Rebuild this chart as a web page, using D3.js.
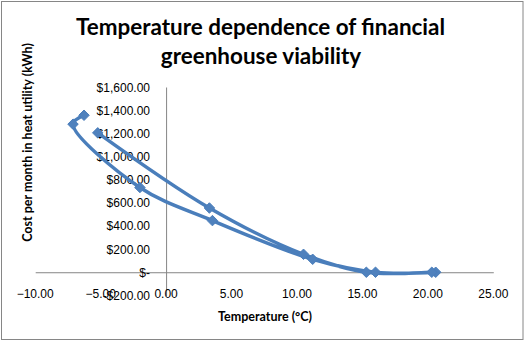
<!DOCTYPE html>
<html>
<head>
<meta charset="utf-8">
<script src="https://cdn.jsdelivr.net/npm/d3@7"></script>
<style>
  html, body { margin: 0; padding: 0; background: #fff; }
  svg { display: block; }
</style>
</head>
<body>
<svg id="chart" width="525" height="342"></svg>
<script>
// Monthly data (Jan..Dec): average temperature (°C) and heating cost ($)
const months = ["Jan","Feb","Mar","Apr","May","Jun","Jul","Aug","Sep","Oct","Nov","Dec"];
const temperature = [-6.27, -7.11, -2.0, 3.54, 11.2, 16.0, 20.6, 20.3, 15.3, 10.5, 3.31, -5.22];
const cost = [1356, 1279, 732, 446, 112, 0, 0, 0, 0, 155, 555, 1204];

const xTicks = [-10, -5, 0, 5, 10, 15, 20, 25];
const yTicks = [-200, 0, 200, 400, 600, 800, 1000, 1200, 1400, 1600];

const titleLines = ["Temperature dependence of financial", "greenhouse viability"];
const xTitle = "Temperature (°C)";
const yTitle = "Cost per month in heat utility (kWh)";

const svg = d3.select("#chart");
const W = 525, H = 342;

// chart border
svg.append("rect").attr("x", 1.5).attr("y", 1.5).attr("width", W - 3.5).attr("height", H - 4)
  .attr("fill", "#fff").attr("stroke", "#868686").attr("stroke-width", 1);

const x = d3.scaleLinear().domain([-10, 25]).range([35.2, 493.3]);
const y = d3.scaleLinear().domain([-200, 1600]).range([295.4, 87.0]);

const fontTick = "'Liberation Sans', Arial, sans-serif";
const fontBold = "Lato, 'Liberation Sans', sans-serif";

function fitWidth(sel, target) {
  sel.each(function () {
    const t = d3.select(this);
    const fs = parseFloat(t.attr("font-size"));
    const w = this.getComputedTextLength();
    if (w > 0) t.attr("font-size", (fs * target / w).toFixed(2));
  });
}

// Title
const t1 = svg.append("text").attr("x", 260.5).attr("y", 34.5).attr("text-anchor", "middle")
  .attr("font-family", fontBold).attr("font-weight", "bold").attr("font-size", 24)
  .attr("fill", "#000").text(titleLines[0]);
fitWidth(t1, 369);
const t2 = svg.append("text").attr("x", 261).attr("y", 64).attr("text-anchor", "middle")
  .attr("font-family", fontBold).attr("font-weight", "bold").attr("font-size", t1.attr("font-size"))
  .attr("fill", "#000").text(titleLines[1]);

// Axes lines (crossing at 0,0)
const xAxis = d3.axisBottom(x).tickValues([]).tickSize(0).tickSizeOuter(0);
const gx = svg.append("g").attr("transform", `translate(0,${y(0)})`).call(xAxis);
gx.select(".domain").attr("stroke", "#868686").attr("stroke-width", 1);

const yAxis = d3.axisLeft(y).tickValues([]).tickSize(0).tickSizeOuter(0);
const gy = svg.append("g").attr("transform", `translate(${x(0)},0)`).call(yAxis);
gy.select(".domain").attr("stroke", "#868686").attr("stroke-width", 1);

// Y tick labels (right-aligned, left of the vertical axis)
const fmtMoney = v => {
  if (v === 0) return "$-";
  const s = d3.format(",.2f")(Math.abs(v));
  return (v < 0 ? "-$" : "$") + s;
};
svg.append("g").selectAll("text").data(yTicks).join("text")
  .attr("x", 150).attr("y", d => y(d) + 4.5).attr("text-anchor", "end")
  .attr("font-family", fontTick).attr("font-size", 12).attr("fill", "#000")
  .text(fmtMoney);

// X tick labels (at bottom of plot area)
svg.append("g").selectAll("text").data(xTicks).join("text")
  .attr("x", d => x(d)).attr("y", 297.5).attr("text-anchor", "middle")
  .attr("font-family", fontTick).attr("font-size", 12).attr("fill", "#000")
  .text(d => d3.format(".2f")(d));

// Axis titles
const xt = svg.append("text").attr("x", 265).attr("y", 320.5).attr("text-anchor", "middle")
  .attr("font-family", fontBold).attr("font-weight", "bold").attr("font-size", 12)
  .attr("fill", "#000").text(xTitle);
fitWidth(xt, 94);
const yt = svg.append("text").attr("transform", "translate(31.5,142.5) rotate(-90)")
  .attr("text-anchor", "middle")
  .attr("font-family", fontBold).attr("font-weight", "bold").attr("font-size", 12)
  .attr("fill", "#000").text(yTitle);
fitWidth(yt, 199);

// Data line (smoothed)
const data = months.map((m, i) => ({ m, t: temperature[i], c: cost[i] }));
const line = d3.line().x(d => x(d.t)).y(d => y(d.c)).curve(d3.curveCatmullRom.alpha(0.5));
svg.append("path").datum(data).attr("d", line)
  .attr("fill", "none").attr("stroke", "#4A7EBB").attr("stroke-width", 3.5)
  .attr("stroke-linejoin", "round").attr("stroke-linecap", "round");

// Diamond markers
const diamond = d3.symbol().type(d3.symbolDiamond2).size(70);
svg.append("g").selectAll("path").data(data).join("path")
  .attr("transform", d => `translate(${x(d.t)},${y(d.c)})`)
  .attr("d", diamond)
  .attr("fill", "#4F81BD").attr("stroke", "#4A7EBB").attr("stroke-width", 1);
</script>
</body>
</html>
